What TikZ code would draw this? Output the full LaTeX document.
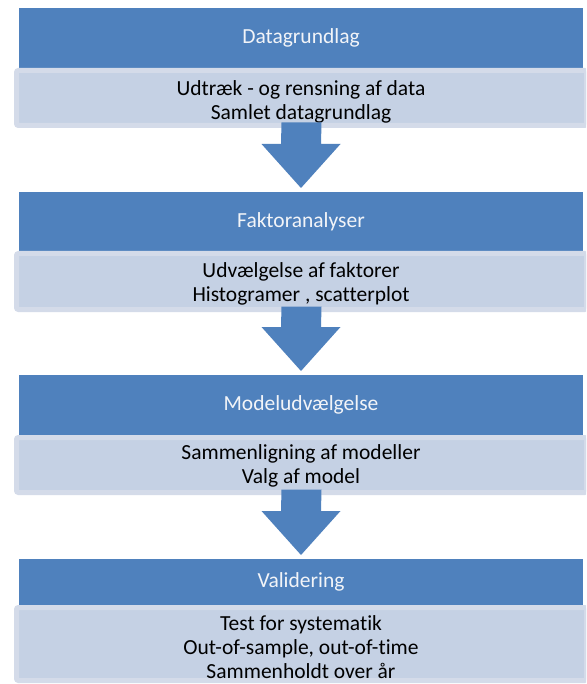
\documentclass[tikz,border=0pt]{standalone}
\usepackage{fontspec}
\setmainfont{Carlito}[Ligatures=NoCommon]
\usetikzlibrary{calc}
\definecolor{darkblue}{HTML}{4F81BD}
\definecolor{lightfill}{HTML}{C5D1E4}
\definecolor{lightrim}{HTML}{D4DBE9}
\definecolor{titletext}{HTML}{F2F4F8}
\tikzset{
  x=1pt, y=-1pt,
  titlebox/.style={fill=darkblue, draw=none, inner sep=0pt, outer sep=0pt,
    minimum width=564pt, text=titletext, font=\fontsize{21.5}{24}\selectfont},
  itembox/.style={fill=lightfill, draw=lightrim, line width=5pt, rounded corners=2pt,
    inner sep=0pt, outer sep=0pt, minimum width=570pt},
  itemtext/.style={align=center, text=black, inner sep=0pt,
    font=\fontsize{21.5}{24}\selectfont},
  blockarrow/.style={fill=darkblue, draw=none}
}
\newcommand{\flowarrow}[2]{%
  \fill[blockarrow] ($(#1.south)+(-20,-3)$) -- ($(#1.south)+(20,-3)$)
    -- ($(#2.north)+(20,-48)$) -- ($(#2.north)+(39.5,-48)$)
    -- ($(#2.north)+(0,-4)$) -- ($(#2.north)+(-39.5,-48)$)
    -- ($(#2.north)+(-20,-48)$) -- cycle;}
\begin{document}
\begin{tikzpicture}
\clip (0,0) rectangle (586,684);
\fill[white] (0,0) rectangle (586,684);
% title boxes
\node[titlebox, minimum height=60pt] (d1) at (301,38) {Datagrundlag};
\node[titlebox, minimum height=59pt] (d2) at (301,221.5) {Faktoranalyser};
\node[titlebox, minimum height=60pt] (d3) at (301,405) {Modeludvælgelse};
\node[titlebox, minimum height=46pt] (d4) at (301,582) {Validering};
% item boxes
\node[itembox, minimum height=55pt] (l1) at (301.5,98) {};
\node[itembox, minimum height=56pt] (l2) at (301.5,281.5) {};
\node[itembox, minimum height=55pt] (l3) at (301.5,465) {};
\node[itembox, minimum height=73pt] (l4) at (301.5,644) {};
\node[itemtext] (t1) at (301,102) {Udtræk - og rensning af data\\Samlet datagrundlag};
\node[itemtext] (t2) at (301,284) {Udvælgelse af faktorer\\Histogramer , scatterplot};
\node[itemtext] (t3) at (301,465.5) {Sammenligning af modeller\\Valg af model};
\node[itemtext] (t4) at (301,647) {Test for systematik\\Out-of-sample, out-of-time\\Sammenholdt over år};
% arrows
\flowarrow{l1}{d2}
\flowarrow{l2}{d3}
\flowarrow{l3}{d4}
\end{tikzpicture}
\end{document}
